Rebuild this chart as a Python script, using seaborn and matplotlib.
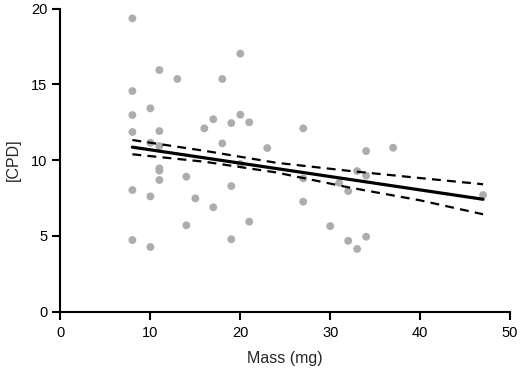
import numpy as np
import pandas as pd
import matplotlib
matplotlib.use("Agg")
import matplotlib.pyplot as plt
import seaborn as sns

# Data
mass_mg = [8, 8, 8, 8, 8, 8,
           10, 10, 10, 10,
           11, 11, 11, 11, 11, 11,
           13, 14, 14, 15, 16, 17, 17, 18, 18,
           19, 19, 19, 20, 20, 20, 21, 21, 23,
           27, 27, 27, 30, 31, 32, 32, 33, 33,
           34, 34, 34, 37, 47]
cpd = [19.35, 14.55, 12.97, 11.85, 8.02, 4.72,
       13.41, 11.14, 7.60, 4.26,
       15.94, 11.91, 10.92, 9.45, 9.30, 8.68,
       15.35, 8.90, 5.69, 7.47, 12.09, 12.69, 6.88, 15.35, 11.10,
       12.44, 8.28, 4.77, 17.02, 12.99, 9.74, 12.49, 5.93, 10.79,
       12.09, 8.79, 7.25, 5.64, 8.50, 7.95, 4.67, 9.27, 4.13,
       10.59, 8.97, 4.94, 10.81, 7.69]

# Regression line and its 95% confidence band
fit_mass = [8, 47]
fit_cpd = [10.85, 7.41]
band_mass = [8, 16, 24, 32, 40, 47]
band_upper = [11.32, 10.61, 9.82, 9.29, 8.81, 8.40]
band_lower = [10.38, 9.89, 9.18, 8.20, 7.34, 6.42]

x_ticks = [0, 10, 20, 30, 40, 50]
y_ticks = [0, 5, 10, 15, 20]

df = pd.DataFrame({"Mass (mg)": mass_mg, "[CPD]": cpd})
fit_df = pd.DataFrame({"x": fit_mass, "y": fit_cpd})
band_df = pd.DataFrame({"x": band_mass, "hi": band_upper, "lo": band_lower})

sns.set_theme(style="ticks")
plt.rcParams['font.family'] = ['Liberation Sans', 'DejaVu Sans']

fig = plt.figure(figsize=(5.2, 3.7), dpi=100)
ax = fig.add_axes([0.1163, 0.158, 0.8645, 0.819])

sns.scatterplot(data=df, x="Mass (mg)", y="[CPD]", ax=ax, color="#adadad",
                s=32, edgecolor="none", zorder=2)

sns.lineplot(data=fit_df, x="x", y="y", ax=ax, color="black", lw=2.3, zorder=3)
for col in ["lo", "hi"]:
    sns.lineplot(data=band_df, x="x", y=col, ax=ax, color="black", lw=1.6,
                 linestyle=(0, (4, 2.8)), zorder=3)

ax.set_xlim(0, 50)
ax.set_ylim(0, 20)
ax.set_xticks(x_ticks)
ax.set_yticks(y_ticks)
ax.set_xlabel("Mass (mg)", fontsize=11.5, labelpad=8)
ax.set_ylabel("[CPD]", fontsize=11.5, labelpad=7)
ax.tick_params(axis="x", pad=4.5)
ax.tick_params(axis="both", labelsize=10.5, width=1.5, length=6, color="black",
               labelcolor="black")
for sp in ["left", "bottom"]:
    ax.spines[sp].set_linewidth(1.5)
    ax.spines[sp].set_color("black")
sns.despine(ax=ax)
for sp in ax.spines.values():
    sp.set_clip_on(False)

fig.savefig("out.png", dpi=100)
